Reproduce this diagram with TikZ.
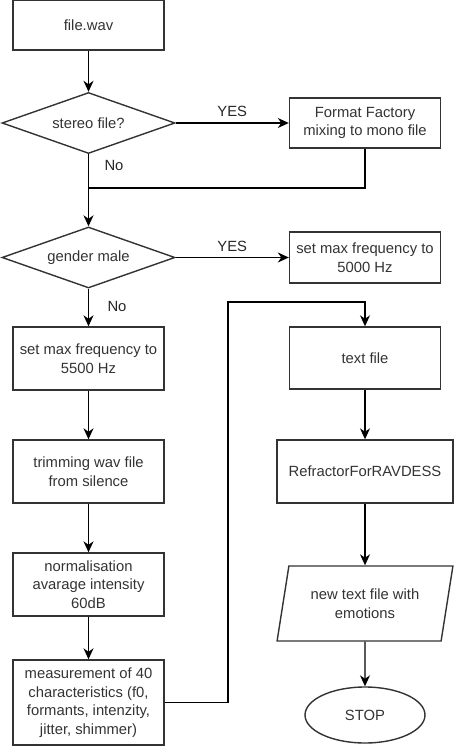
\documentclass[tikz,border=0pt]{standalone}
\usepackage{fontspec}
\setmainfont{Liberation Sans}
\usetikzlibrary{shapes.geometric,arrows.meta}
\begin{document}
\begin{tikzpicture}[
        x=1pt, y=-1pt,
        every node/.style={font=\fontsize{14.8}{18.5}\selectfont, text=black!80},
        procbox/.style={rectangle, draw=black!80, line width=1.4pt, align=center, minimum width=151pt, inner sep=0pt},
        decision/.style={diamond, draw=black!80, line width=1.4pt, align=center, aspect=2.8, minimum width=173pt, minimum height=61pt, inner sep=0pt},
        iobox/.style={trapezium, trapezium left angle=74, trapezium right angle=106, trapezium stretches=true, draw=black!80, line width=1.4pt, align=center, minimum width=176pt, minimum height=75pt, inner sep=0pt},
        stopnode/.style={ellipse, draw=black!80, line width=1.4pt, minimum width=120pt, minimum height=56pt, inner sep=0pt},
        arr/.style={draw=black, line width=1.3pt, -{Stealth[length=11pt,width=10pt,inset=3.5pt]}},
        line/.style={draw=black, line width=1.3pt},
        lbl/.style={font=\fontsize{14.8}{17}\selectfont, text=black!85}
    ]
    \useasboundingbox (0,0) rectangle (462,746);

    % left column
    \node[procbox, minimum height=50pt] (wav) at (88.5,25) {file.wav};
    \node[decision] (stereo) at (88.5,123) {stereo file?};
    \node[decision] (gender) at (88.5,257.5) {gender male};
    \node[procbox, minimum height=63pt] (max5500) at (88.5,358.5) {set max frequency to\\5500 Hz};
    \node[procbox, minimum height=63pt] (trim) at (88.5,471.5) {trimming wav file\\from silence};
    \node[procbox, minimum height=63pt] (norm) at (88.5,584.5) {normalisation\\avarage intensity\\60dB};
    \node[procbox, minimum height=85pt] (meas) at (88.5,702.5) {measurement of 40\\characteristics (f0,\\formants, intenzity,\\jitter, shimmer)};

    % right column
    \node[procbox, minimum height=50pt] (mono) at (365,123) {Format Factory\\mixing to mono file};
    \node[procbox, minimum height=51pt] (max5000) at (365,257.5) {set max frequency to\\5000 Hz};
    \node[procbox, minimum height=62pt] (txt) at (365,358) {text file};
    \node[procbox, minimum width=176pt, minimum height=63pt] (refr) at (365,471.5) {RefractorForRAVDESS};
    \node[iobox] (emo) at (365,603.5) {new text file with\\emotions};
    \node[stopnode] (stop) at (365,715) {STOP};

    \coordinate (join) at (88.5,188);
    \coordinate (bend) at (228,302);

    \draw[arr] (wav) -- (stereo);
    \draw[arr] (stereo) -- node[lbl, above=2pt] {YES} (mono);
    \draw[arr] (stereo) -- (gender);
    \node[lbl] (no1) at (114,165) {No};
    \draw[line] (mono.south) |- (join);
    \draw[arr] (gender) -- node[lbl, above=2pt] {YES} (max5000);
    \draw[arr] (gender) -- (max5500);
    \node[lbl] (no2) at (117,306) {No};
    \draw[arr] (max5500) -- (trim);
    \draw[arr] (trim) -- (norm);
    \draw[arr] (norm) -- (meas);
    \draw[arr] (meas.east) -| (bend) -| (txt.north);
    \draw[arr] (txt) -- (refr);
    \draw[arr] (refr) -- (emo);
    \draw[arr] (emo) -- (stop);
\end{tikzpicture}
\end{document}
